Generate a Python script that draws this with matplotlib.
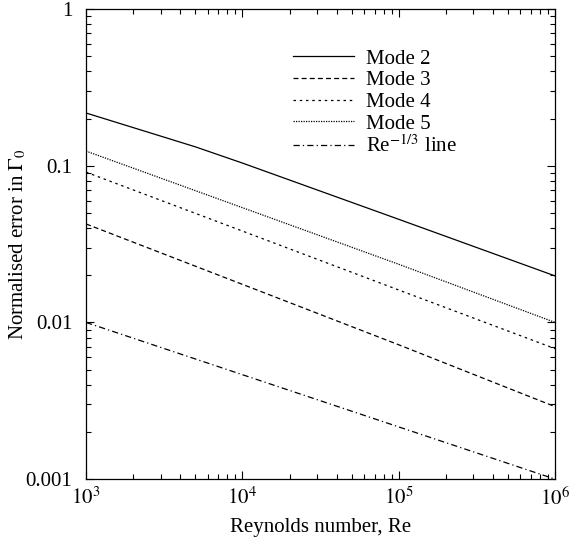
import matplotlib
matplotlib.use('Agg')
import matplotlib.pyplot as plt
import numpy as np

# values (log-log)
re_mode2 = [1e3, 5e3, 1e4, 1e5, 1e6]
err_mode2 = [0.217, 0.132, 0.104, 0.0455, 0.0198]

re_modes = [1e3, 1e4, 1e5, 1e6]
err_mode3 = [0.0425, 0.0175, 0.0072, 0.0029]
err_mode4 = [0.091, 0.0383, 0.0161, 0.0068]
err_mode5 = [0.124, 0.054, 0.0235, 0.0100]

re_line = [1e3, 1e6]
err_line = [0.01, 0.001]

x_ticks = [1e3, 1e4, 1e5, 1e6]
x_labels = ['$10^{3}$', '$10^{4}$', '$10^{5}$', '$10^{6}$']
y_ticks = [0.001, 0.01, 0.1, 1]
y_labels = ['0.001', '0.01', '0.1', '1']

plt.rcParams['font.family'] = ['Liberation Serif', 'DejaVu Serif']
plt.rcParams['mathtext.fontset'] = 'stix'

fig = plt.figure(figsize=(5.70, 5.47), dpi=100)
ax = fig.add_axes([0.151, 0.124, 0.823, 0.8595])

lw = 0.9
ax.plot(re_mode2, err_mode2, color='black', lw=lw, ls='-', label='Mode 2')
ax.plot(re_modes, err_mode3, color='black', lw=lw, ls=(0, (4, 2.5)), label='Mode 3')
ax.plot(re_modes, err_mode4, color='black', lw=lw, ls=(0, (2, 3)), label='Mode 4')
ax.plot(re_modes, err_mode5, color='black', lw=lw, ls=(0, (1, 1)), label='Mode 5')
ax.plot(re_line, err_line, color='black', lw=lw, ls=(0, (5, 2.5, 1, 2.5)),
        label='Re$^{-1/3}$ line')

ax.set_xscale('log')
ax.set_yscale('log')
ax.set_xlim(1e3, 1e6)
ax.set_ylim(1e-3, 1)

ax.set_xticks(x_ticks)
ax.set_xticklabels(x_labels)
ax.set_yticks(y_ticks)
ax.set_yticklabels(y_labels)

ax.tick_params(which='both', direction='in', top=True, right=True, labelsize=15)
ax.tick_params(which='major', length=6, width=0.8)
ax.tick_params(which='minor', length=3.5, width=0.8)
ax.tick_params(axis='x', which='major', pad=6)
ax.tick_params(axis='y', which='major', pad=10)
for s in ax.spines.values():
    s.set_linewidth(0.9)

ax.set_xlabel('Reynolds number, Re', fontsize=15, labelpad=6)
ax.set_ylabel(r'Normalised error in $\Gamma_0$', fontsize=15, labelpad=-2)

ax.legend(loc='upper left', bbox_to_anchor=(0.402, 0.955), frameon=False,
          fontsize=15, handlelength=2.9, labelspacing=0.1, handletextpad=0.6)

fig.savefig('out.png', dpi=100)
